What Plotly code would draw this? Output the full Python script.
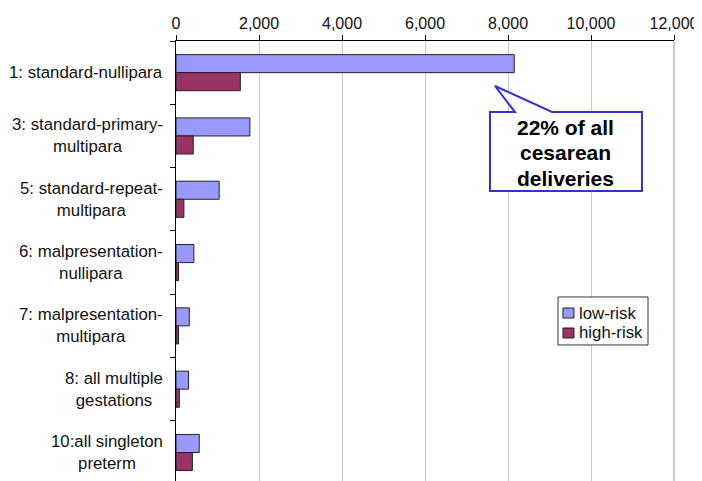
import plotly.graph_objects as go

categories = [
    "1: standard-nullipara",
    "3: standard-primary-<br>multipara",
    "5: standard-repeat-<br>multipara",
    "6: malpresentation-<br>nullipara",
    "7: malpresentation-<br>multipara",
    "8: all multiple<br>gestations",
    "10:all singleton<br>preterm",
]
series_names = ["low-risk", "high-risk"]
series_colors = ["#9999FF", "#993366"]
low_risk = [8150, 1780, 1040, 430, 320, 300, 560]
high_risk = [1550, 415, 190, 60, 60, 80, 395]
x_ticks = [0, 2000, 4000, 6000, 8000, 10000, 12000]
callout_lines = ["22% of all", "cesarean", "deliveries"]

FONT = "Liberation Sans, Arial, sans-serif"
LBL = 16.8

fig = go.Figure()
for name, vals, col in zip(series_names, [low_risk, high_risk], series_colors):
    fig.add_trace(go.Bar(
        y=categories, x=vals, orientation="h", name=name,
        marker=dict(color=col, line=dict(color="#222222", width=1)),
        showlegend=False,
    ))

annotations = []
# category labels (centered multi-line, right anchored)
for c in categories:
    annotations.append(dict(
        x=0, xref="paper", y=c, yref="y", text=c, showarrow=False,
        xanchor="right", yanchor="middle", xshift=-11, align="center",
        font=dict(family=FONT, size=LBL, color="#111111"),
    ))

# callout text (one annotation per line for tight line spacing)
for yy, line in zip([0.8023, 0.7455, 0.6886], callout_lines):
    annotations.append(dict(
        x=0.7831, y=yy, xref="paper", yref="paper", text="<b>" + line + "</b>",
        showarrow=False, xanchor="center", yanchor="middle",
        font=dict(family=FONT, size=21, color="#000000"),
    ))

# legend labels
for yy, name in zip([0.3818, 0.3364], series_names):
    annotations.append(dict(
        x=0.8052, y=yy, xref="paper", yref="paper", text=name, showarrow=False,
        xanchor="left", yanchor="middle",
        font=dict(family=FONT, size=LBL, color="#111111"),
    ))

path = ("M 0.6305 0.8386 L 0.6807 0.8386 L 0.6406 0.8977 L 0.7550 0.8386 "
        "L 0.9357 0.8386 L 0.9357 0.6591 L 0.6305 0.6591 Z")
shapes = [
    # right-edge gridline (12,000)
    dict(type="line", xref="paper", yref="paper", x0=1, x1=1, y0=0, y1=1,
         line=dict(color="#B8B8B8", width=1.5), layer="below"),
    dict(type="path", xref="paper", yref="paper", path=path,
         fillcolor="white", line=dict(color="#3333CC", width=2), layer="above"),
    # legend box
    dict(type="rect", xref="paper", yref="paper", x0=0.7671, x1=0.9478,
         y0=0.3091, y1=0.4182, fillcolor="white",
         line=dict(color="#333333", width=1), layer="above"),
]
for (y0, y1), col in zip([(0.3705, 0.3932), (0.3250, 0.3477)], series_colors):
    shapes.append(dict(type="rect", xref="paper", yref="paper", x0=0.7771, x1=0.7992,
                       y0=y0, y1=y1, fillcolor=col,
                       line=dict(color="#222222", width=1), layer="above"))

# the page body has an 8px margin, so the figure is made 8px smaller and shifted
fig.update_layout(
    width=694, height=473,
    margin=dict(l=168, r=28, t=33, b=0, pad=0, autoexpand=False),
    paper_bgcolor="white", plot_bgcolor="white",
    barmode="group", bargap=0.43, bargroupgap=0,
    font=dict(family=FONT, size=LBL, color="#111111"),
    showlegend=False,
    xaxis=dict(
        side="top", range=[0, 12000], tickvals=x_ticks, tickformat=",",
        showgrid=True, gridcolor="#C8C8C8", gridwidth=1,
        showline=True, linecolor="#000000", linewidth=1,
        ticks="outside", ticklen=5, tickcolor="#000000",
        zeroline=False, tickfont=dict(family=FONT, size=16, color="#111111"),
    ),
    yaxis=dict(
        type="category", range=[6.45, -0.5], showticklabels=False,
        tickson="boundaries", ticks="outside", ticklen=5, tickcolor="#000000",
        showline=True, linecolor="#000000", linewidth=1, showgrid=False,
        zeroline=False,
    ),
    annotations=annotations,
    shapes=shapes,
)

fig.write_html("out.html")
